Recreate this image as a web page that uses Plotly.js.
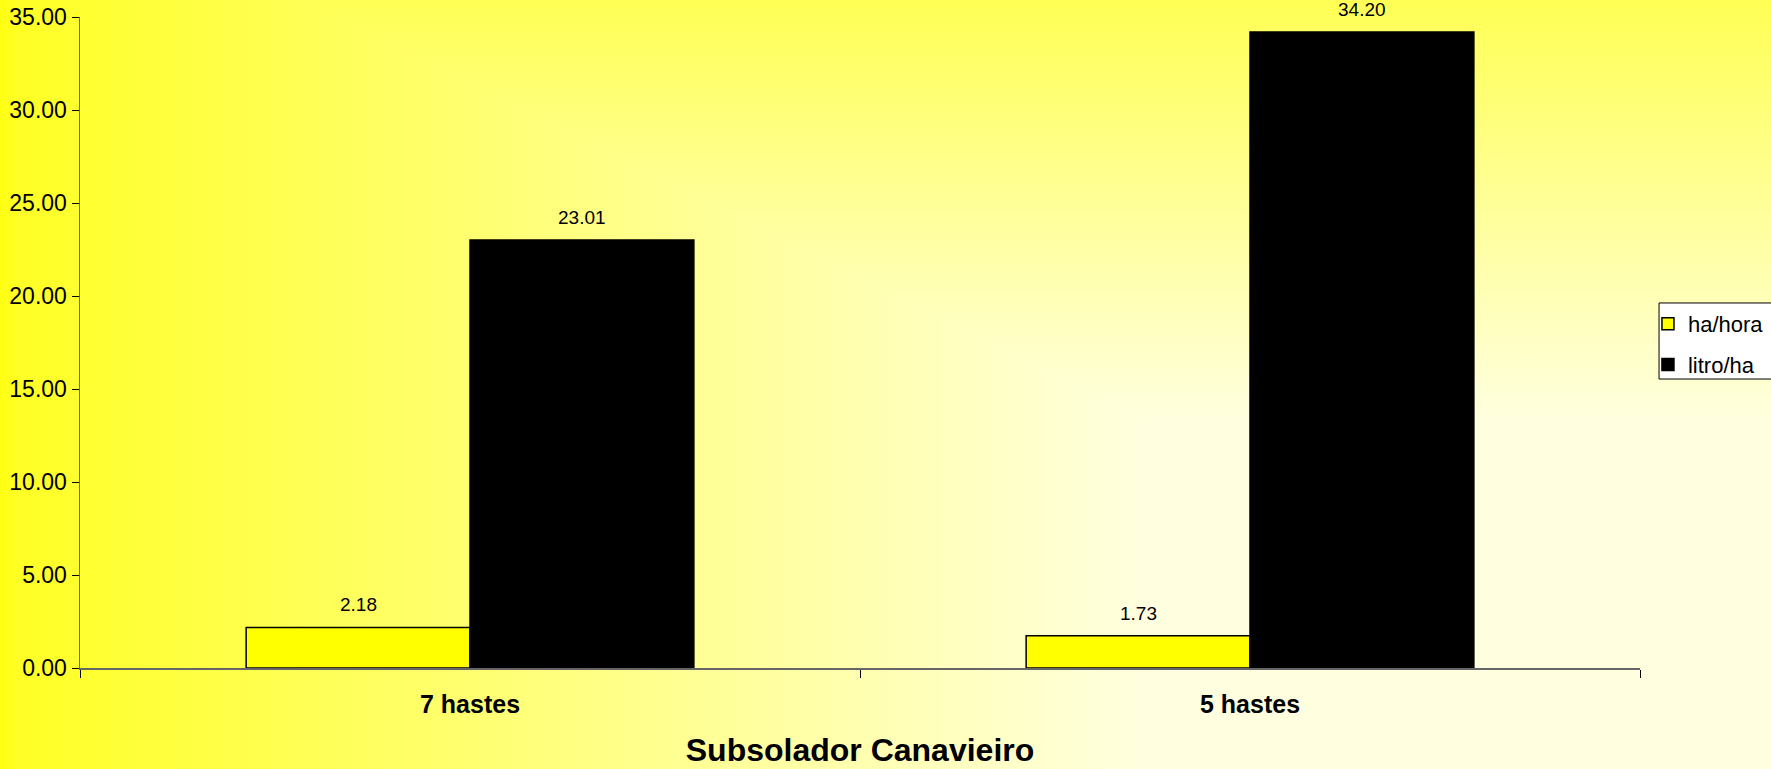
<!DOCTYPE html>
<html>
<head>
<meta charset="utf-8">
<script src="https://cdn.plot.ly/plotly-3.0.1.min.js"></script>
<style>
  html, body { margin: 0; padding: 0; }
  #chart {
    width: 1771px; height: 769px;
    background:
      linear-gradient(to right, #FFFF12 0%, #FFFF26 1%, #FFFFE0 65%, #FFFFE0 100%),
      linear-gradient(to bottom, #FFFF55 0%, #FFFFE0 55%, #FFFFE0 100%);
    background-blend-mode: darken;
  }
</style>
</head>
<body>
<div id="chart"></div>
<script>
const categories = ["7 hastes", "5 hastes"];
const haHora = [2.18, 1.73];
const litroHa = [23.01, 34.20];
const seriesNames = ["ha/hora", "litro/ha"];
const xTitle = "Subsolador Canavieiro";

const FONT = "Liberation Sans, Arial, sans-serif";

const traces = [
  {
    type: "bar", name: seriesNames[0], x: categories, y: haHora,
    marker: { color: "#FFFF00", line: { color: "#000000", width: 1.5 } },
    legendgroup: "a", hoverinfo: "none"
  },
  {
    type: "bar", name: seriesNames[1], x: categories, y: litroHa,
    marker: { color: "#000000", line: { color: "#000000", width: 1.5 } },
    legendgroup: "b", hoverinfo: "none"
  }
];

// value labels above each bar
const annotations = [];
const seriesVals = [haHora, litroHa];
const shifts = [-112, 112];
seriesVals.forEach((vals, s) => {
  vals.forEach((v, i) => {
    annotations.push({
      x: categories[i], y: v, xref: "x", yref: "y",
      text: v.toFixed(2), showarrow: false,
      xshift: shifts[s], yshift: 10, yanchor: "bottom",
      font: { family: FONT, size: 19, color: "#000" }
    });
  });
});

const layout = {
  width: 1771, height: 769,
  margin: { l: 80, r: 131, t: 17, b: 101, autoexpand: false },
  paper_bgcolor: "rgba(0,0,0,0)",
  plot_bgcolor: "rgba(0,0,0,0)",
  barmode: "group",
  bargap: 0.426,
  bargroupgap: 0,
  font: { family: FONT, color: "#000" },
  showlegend: true,
  legend: {
    x: 1.0051, xanchor: "left", y: 0.5607, yanchor: "top",
    bgcolor: "rgba(0,0,0,0)", borderwidth: 0,
    font: { family: FONT, size: 22, color: "#000" },
    traceorder: "grouped", tracegroupgap: 9
  },
  // legend frame (box extends past the right edge, as in the original)
  shapes: [{
    type: "rect", xref: "paper", yref: "paper", layer: "above",
    x0: 1.0122, x1: 1.0897, y0: 0.4439, y1: 0.5607,
    fillcolor: "#FFFFFF", line: { color: "#000000", width: 1 }
  }],
  xaxis: {
    type: "category",
    showline: true, linecolor: "#666", linewidth: 1.5,
    ticks: "outside", tickson: "boundaries", ticklen: 8, tickcolor: "#000", tickwidth: 1,
    ticklabelstandoff: 13,
    tickfont: { family: FONT, size: 25, color: "#000", weight: "bold" },
    showgrid: false, zeroline: false,
    title: { text: "<b>" + xTitle + "</b>", font: { family: FONT, size: 32, color: "#000" }, standoff: 22 }
  },
  yaxis: {
    range: [0, 35], dtick: 5, tickformat: ".2f",
    showline: true, linecolor: "#666", linewidth: 1.5,
    ticks: "outside", ticklen: 7, tickcolor: "#000", tickwidth: 1,
    tickfont: { family: FONT, size: 23, color: "#000" },
    showgrid: false, zeroline: false
  },
  annotations: annotations
};

Plotly.newPlot("chart", traces, layout, { staticPlot: true, displayModeBar: false });
</script>
</body>
</html>
